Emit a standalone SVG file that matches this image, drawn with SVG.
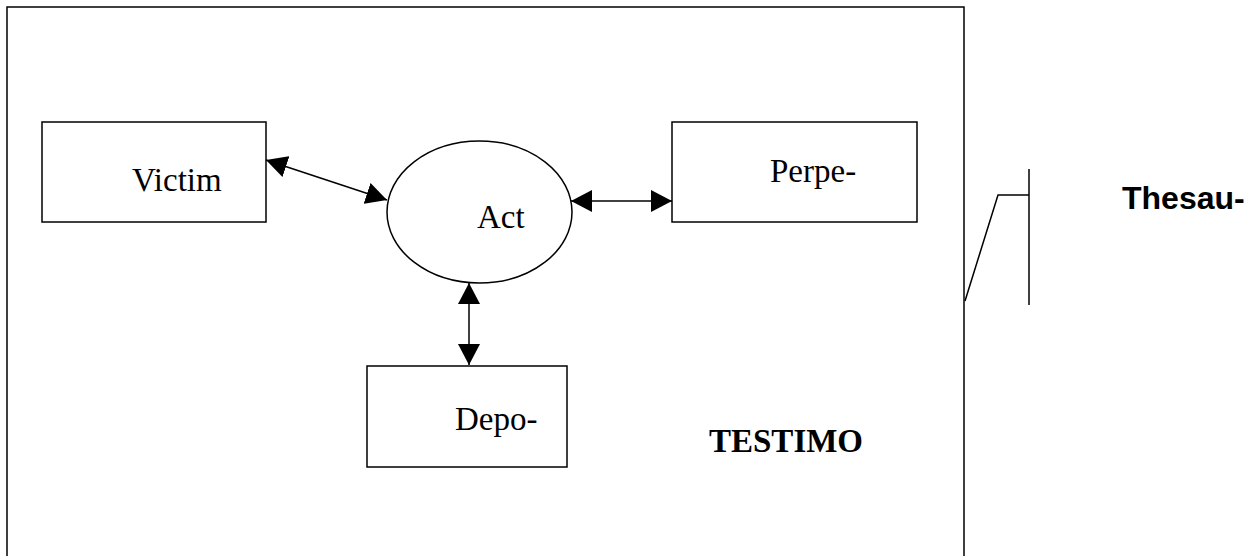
<svg xmlns="http://www.w3.org/2000/svg" width="1259" height="556" viewBox="0 0 1259 556">
<style>
.box{fill:#fff;stroke:#000;stroke-width:1.5}
.ln{fill:none;stroke:#000;stroke-width:1.5}
.lbl{font-family:"Liberation Serif","Times New Roman",serif;font-size:33px;fill:#000}
.bold{font-weight:bold}
.sans{font-family:"Liberation Sans",Arial,sans-serif;font-size:32px;font-weight:bold;fill:#000}
</style>
<defs>
<marker id="ah" markerUnits="userSpaceOnUse" markerWidth="22" markerHeight="22" viewBox="0 0 22 22" refX="21" refY="11" orient="auto-start-reverse">
<path d="M0,0 L21,11 L0,22 Z" fill="#000"/>
</marker>
</defs>
<g id="frame">
<rect class="ln" x="7" y="7" width="957" height="580"/>
</g>
<g id="victim">
<rect class="box" x="42" y="122" width="224" height="100"/>
<text class="lbl" x="132" y="191">Victim</text>
</g>
<g id="perpe">
<rect class="box" x="672" y="122" width="245" height="100"/>
<text class="lbl" x="770" y="182">Perpe-</text>
</g>
<g id="act">
<ellipse class="box" cx="479.5" cy="212" rx="92.5" ry="71"/>
<text class="lbl" x="477" y="228">Act</text>
</g>
<g id="depo">
<rect class="box" x="367" y="366" width="200" height="101"/>
<text class="lbl" x="455" y="430">Depo-</text>
</g>
<g id="testimo">
<text class="lbl bold" x="709" y="452">TESTIMO</text>
</g>
<g id="thesaurus">
<polyline class="ln" points="965,301 998,195 1029,195"/>
<line class="ln" x1="1029" y1="169" x2="1029" y2="305"/>
<text class="sans" x="1122" y="209">Thesau-</text>
</g>
<g id="connectors">
<line class="ln" x1="266" y1="160" x2="387" y2="200" marker-start="url(#ah)" marker-end="url(#ah)"/>
<line class="ln" x1="571" y1="201" x2="672" y2="201" marker-start="url(#ah)" marker-end="url(#ah)"/>
<line class="ln" x1="469" y1="283" x2="469" y2="365" marker-start="url(#ah)" marker-end="url(#ah)"/>
</g>
</svg>
